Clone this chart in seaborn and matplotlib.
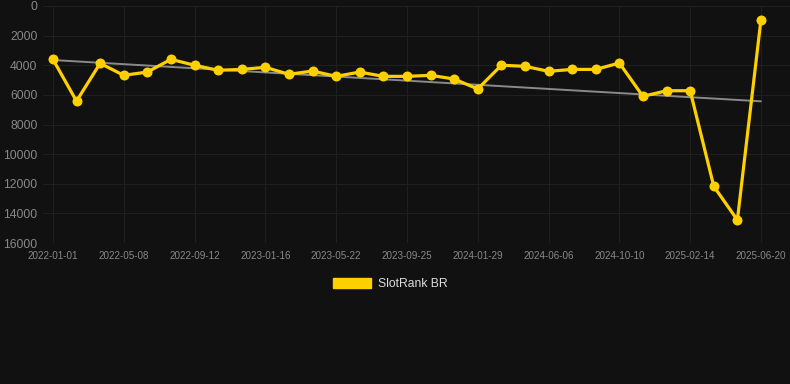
import numpy as np
import pandas as pd
import matplotlib
matplotlib.use("Agg")
import matplotlib.pyplot as plt
import seaborn as sns
from matplotlib.patches import Patch

dates = ["2022-01-01", "2022-02-12", "2022-03-26", "2022-05-08", "2022-06-19", "2022-07-31",
         "2022-09-12", "2022-10-24", "2022-12-05", "2023-01-16", "2023-02-27", "2023-04-10",
         "2023-05-22", "2023-07-03", "2023-08-14", "2023-09-25", "2023-11-06", "2023-12-18",
         "2024-01-29", "2024-03-12", "2024-04-24", "2024-06-06", "2024-07-18", "2024-08-29",
         "2024-10-10", "2024-11-21", "2025-01-02", "2025-02-14", "2025-03-28", "2025-05-09",
         "2025-06-20"]
rank = [3600, 6420, 3870, 4680, 4460, 3600, 4000, 4340, 4280, 4140, 4610, 4390,
        4750, 4460, 4750, 4750, 4680, 4930, 5600, 4000, 4070, 4410, 4280, 4280,
        3850, 6100, 5720, 5720, 12170, 14450, 920]
y_ticks = [0, 2000, 4000, 6000, 8000, 10000, 12000, 14000, 16000]
series_name = "SlotRank BR"

bg = "#111111"
gold = "#FFD000"

sns.set_theme(style="dark")
plt.rcParams["font.family"] = ["Liberation Sans", "DejaVu Sans"]

df = pd.DataFrame({"idx": np.arange(len(dates)), "date": dates, "rank": rank})

fig = plt.figure(figsize=(7.9, 3.84), dpi=100, facecolor=bg)
ax = fig.add_axes([43 / 790, 1 - 243 / 384, 747 / 790, 237 / 384])
ax.set_facecolor(bg)

# trend line
sns.regplot(data=df, x="idx", y="rank", ax=ax, scatter=False, ci=None,
            line_kws={"color": "#8a8a8a", "lw": 1.4, "zorder": 2})
sns.lineplot(data=df, x="idx", y="rank", ax=ax, color=gold, lw=2.3,
             marker="o", markersize=7.2, markeredgewidth=0, zorder=3)

ax.set_ylim(16000, 0)
ax.set_xlim(-0.42, 31.23)
ax.set_yticks(y_ticks)
ax.set_yticklabels([str(v) for v in y_ticks], fontsize=8.7, color="#888888")
tick_idx = list(range(0, len(dates), 3))
ax.set_xticks(tick_idx)
ax.set_xticklabels([dates[i] for i in tick_idx], fontsize=7.1, color="#888888")
ax.tick_params(axis="both", length=0, pad=4)
ax.tick_params(axis="x", pad=6)
ax.grid(True, color="#1f1f1f", lw=0.8)
ax.set_xlabel("")
ax.set_ylabel("")
for s in ax.spines.values():
    s.set_visible(False)

handle = Patch(facecolor=gold, edgecolor=gold)
fig.legend([handle], [series_name], loc="center", bbox_to_anchor=(390 / 790, 1 - 284 / 384),
           frameon=False, fontsize=8.7, labelcolor="#dddddd",
           handlelength=3.2, handleheight=0.9, handletextpad=0.55)

fig.savefig("out.png", dpi=100, facecolor=bg)
